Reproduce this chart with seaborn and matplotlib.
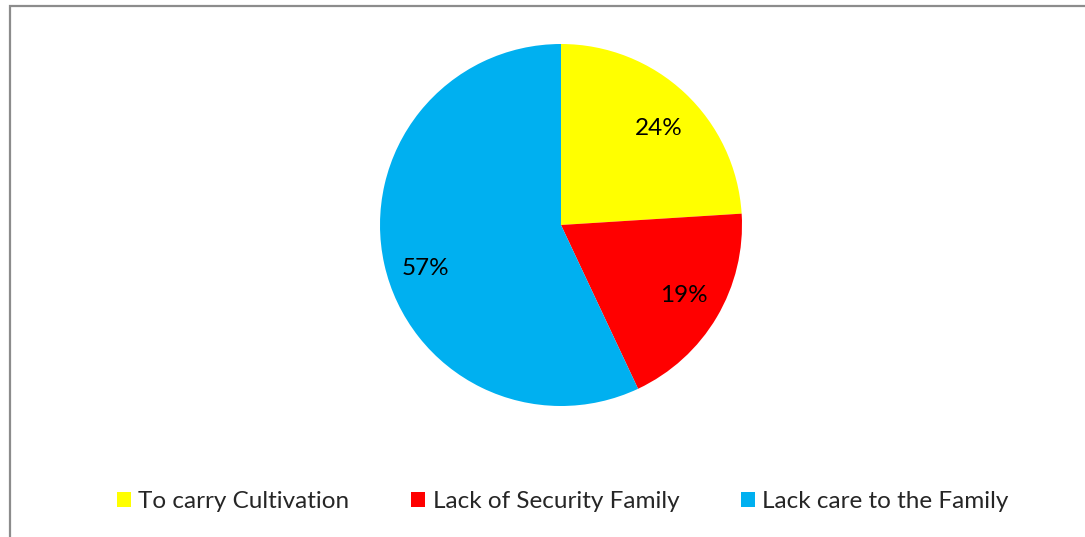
import matplotlib
matplotlib.use("Agg")
import matplotlib.pyplot as plt
from matplotlib.patches import Patch, Rectangle
import seaborn as sns

categories = ["To carry Cultivation", "Lack of Security Family", "Lack care to the Family"]
values = [24, 19, 57]
colors = ["#FFFF00", "#FF0000", "#00B0F0"]

sns.set_style("white")
plt.rcParams['font.family'] = ['Lato', 'DejaVu Sans']

W, H = 1085, 537
fig = plt.figure(figsize=(W / 100, H / 100), dpi=100)
fig.patch.set_facecolor("white")

# outer chart frame
fig.add_artist(Rectangle((10 / W, -0.05), 1.2, 1 - 6 / H + 0.05, transform=fig.transFigure,
                         fill=False, edgecolor="#8c8c8c", linewidth=1.6))

cx, cy, r = 561, 225, 181
ax = fig.add_axes([(cx - r) / W, (H - cy - r) / H, 2 * r / W, 2 * r / H])
wedges, texts, autotexts = ax.pie(values, colors=colors, startangle=90, counterclock=False,
                                  autopct=lambda p: f"{p:.0f}%", pctdistance=0.79,
                                  wedgeprops=dict(linewidth=0),
                                  textprops=dict(fontsize=17.5, color="black"))
# small nudges of the label placement (Excel-like positioning)
nudges = [(0.0, -0.04), (0.0, 0.01), (0.02, -0.07)]
for t, (dx, dy) in zip(autotexts, nudges):
    x, y = t.get_position()
    t.set_position((x + dx, y + dy))
ax.set_xlim(-1, 1)
ax.set_ylim(-1, 1)
ax.set_aspect("equal")
ax.axis("off")

handles = [Patch(facecolor=c, edgecolor="none", label=l) for c, l in zip(colors, categories)]
fig.legend(handles=handles, loc="center", bbox_to_anchor=(563 / W, 1 - 502 / H), ncol=3,
           frameon=False, fontsize=17.5, handlelength=0.57, handleheight=0.57,
           handletextpad=0.3, columnspacing=2.55, borderpad=0)

fig.savefig("out.png", dpi=100, facecolor="white")
